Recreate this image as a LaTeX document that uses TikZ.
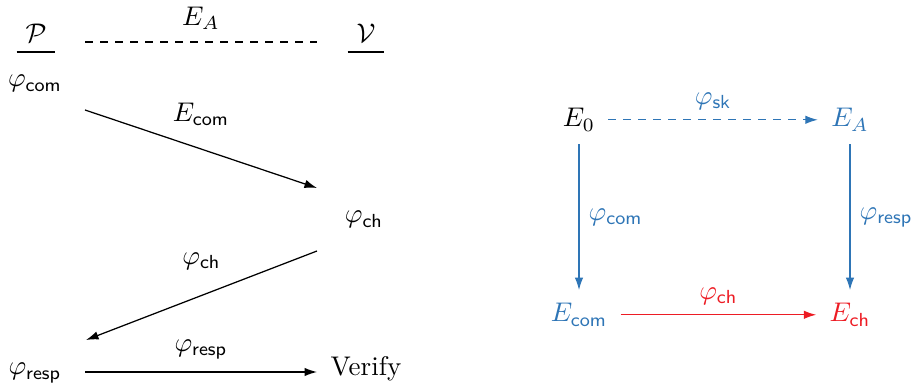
\documentclass[tikz,border=0pt]{standalone}
\usepackage{amsmath, amssymb}
\usetikzlibrary{arrows.meta}
\definecolor{isoblue}{RGB}{46,117,182}
\definecolor{isored}{RGB}{237,28,36}

\begin{document}
\begin{tikzpicture}[x=0.4pt, y=0.4pt, line width=0.5pt,
        every node/.style={scale=1.08},
        msg/.style={-{Latex[length=5pt,width=3.4pt]}},
        iso/.style={-{Latex[length=5pt,width=3.4pt]}, shorten <=1.5pt, shorten >=1.5pt},
        pt/.style={anchor=base}]
    \useasboundingbox (0,0) rectangle (913,385);
    % protocol
    \node[pt] (P) at (36,342) {$\underline{\ \mathcal{P}\vphantom{g}\ }$};
    \node[pt] (V) at (366,342) {$\underline{\ \mathcal{V}\vphantom{g}\ }$};
    \node[pt] (com) at (35,298) {$\varphi_{\mathsf{com}}$};
    \node[pt] (chV) at (364,162) {$\varphi_{\mathsf{ch}}$};
    \node[pt] (resp) at (35,10) {$\varphi_{\mathsf{resp}}$};
    \node[pt] (verify) at (366,9) {Verify};
    \coordinate (p0) at (85,343);
    \coordinate (v0) at (317,343);
    \coordinate (p1) at (85,275);
    \coordinate (v1) at (317,197);
    \coordinate (v2) at (317,134);
    \coordinate (p2) at (86,45);
    \coordinate (p3) at (85,13);
    \coordinate (v3) at (317,13);
    \draw[dashed] (p0) -- node[above=1pt]{$E_A$} (v0);
    \draw[msg] (p1) -- node[above=5pt]{$E_{\mathsf{com}}$} (v1);
    \draw[msg] (v2) -- node[above=6pt]{$\varphi_{\mathsf{ch}}$} (p2);
    \draw[msg] (p3) -- node[above=1pt]{$\varphi_{\mathsf{resp}}$} (v3);
    % isogeny square
    \node[pt] (E0) at (579,258) {$E_0$};
    \node[pt, text=isoblue] (EA) at (850,258) {$E_A$};
    \node[pt, text=isoblue] (Ecom) at (579,63) {$E_{\mathsf{com}}$};
    \node[pt, text=isored] (Ech) at (850,63) {$E_{\mathsf{ch}}$};
    \draw[iso, isoblue, dashed] (E0) -- node[above]{$\varphi_{\mathsf{sk}}$} (EA);
    \draw[iso, isoblue] (E0) -- node[right]{$\varphi_{\mathsf{com}}$} (Ecom);
    \draw[iso, isoblue] (EA) -- node[right]{$\varphi_{\mathsf{resp}}$} (Ech);
    \draw[iso, isored] (Ecom) -- node[above]{$\varphi_{\mathsf{ch}}$} (Ech);
\end{tikzpicture}
\end{document}
